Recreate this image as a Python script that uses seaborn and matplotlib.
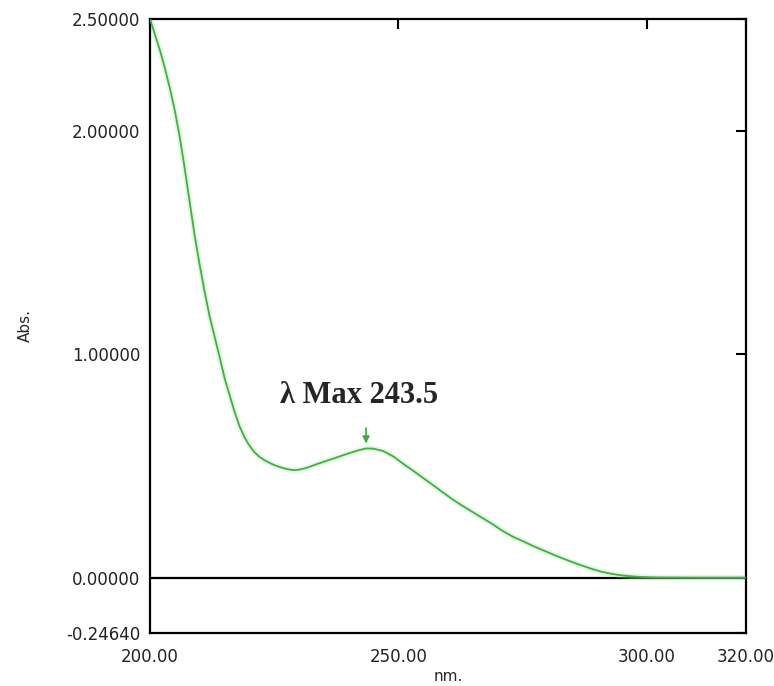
import seaborn as sns
import pandas as pd
import numpy as np
import matplotlib.pyplot as plt

# spectrum (nm, Abs.)
wavelength = [200, 201, 202, 203, 204, 205, 206, 207, 208, 209,
              210, 211, 212, 213, 214, 215, 216, 217, 218, 219,
              220, 221, 222, 223, 224, 225, 226, 227, 228, 229,
              230, 231, 232, 233, 234, 236, 238, 240, 242, 243.5,
              245, 247, 249, 251, 253, 255, 257, 259, 261, 263,
              265, 267, 269, 271, 273, 275, 277, 279, 281, 283,
              285, 287, 289, 291, 293, 295, 297, 299, 302, 310, 320]
absorbance = [2.50, 2.43, 2.36, 2.28, 2.19, 2.09, 1.97, 1.83, 1.68, 1.53,
              1.40, 1.28, 1.17, 1.08, 0.99, 0.895, 0.82, 0.745, 0.68, 0.63,
              0.592, 0.563, 0.542, 0.527, 0.515, 0.505, 0.497, 0.490, 0.485, 0.482,
              0.484, 0.489, 0.496, 0.504, 0.512, 0.527, 0.542, 0.557, 0.571, 0.579,
              0.578, 0.567, 0.543, 0.510, 0.479, 0.447, 0.415, 0.382, 0.350, 0.321,
              0.294, 0.267, 0.240, 0.210, 0.185, 0.165, 0.144, 0.125, 0.106, 0.088,
              0.071, 0.055, 0.040, 0.027, 0.018, 0.011, 0.007, 0.004, 0.002, 0.001, 0.001]

x_ticks = [200, 250, 300, 320]
x_labels = ["200.00", "250.00", "300.00", "320.00"]
y_ticks = [-0.2464, 0.0, 1.0, 2.0, 2.5]
y_labels = ["-0.24640", "0.00000", "1.00000", "2.00000", "2.50000"]

peak_nm = 243.5
peak_abs = 0.588

spec = pd.DataFrame({"nm": wavelength, "abs": absorbance})

sns.set_style("white")
plt.rcParams["font.family"] = ["DejaVu Sans"]

fig = plt.figure(figsize=(7.74, 6.86), dpi=100)
ax = fig.add_axes([0.1938, 0.0773, 0.770, 0.895])

# zero line
ax.axhline(0, color="black", lw=1.6, zorder=1)

# faint glow + curve
ax.plot(spec["nm"], spec["abs"], color="#aaf0aa", lw=4, alpha=0.35, zorder=2)
sns.lineplot(data=spec, x="nm", y="abs", ax=ax, color="#45ad45", lw=1.3, zorder=3)

ax.set_xlim(200, 320)
ax.set_ylim(-0.2464, 2.5)

ax.set_xticks(x_ticks)
ax.set_xticklabels(x_labels)
ax.set_yticks(y_ticks)
ax.set_yticklabels(y_labels)
ax.tick_params(axis="both", direction="in", length=7, width=1.5, color="black",
               labelsize=12, labelcolor="#222222", top=True, right=True)
ax.tick_params(axis="y", pad=7)
ax.tick_params(axis="x", pad=11)

for s in ax.spines.values():
    s.set_color("black")
    s.set_linewidth(1.6)

ax.set_xlabel("nm.", fontsize=11, labelpad=2)
ax.set_ylabel("Abs.", fontsize=11, labelpad=24)

# peak marker
ax.annotate("", xy=(peak_nm, peak_abs), xytext=(peak_nm, peak_abs + 0.095),
            arrowprops=dict(arrowstyle="-|>", color="#45ad45", lw=1.3,
                            mutation_scale=10))
ax.text(242.0, 0.815, "λ Max 243.5", ha="center", va="center", fontsize=22,
        fontweight="bold", family=["Liberation Serif", "DejaVu Serif"])

fig.savefig("out.png", dpi=100)
